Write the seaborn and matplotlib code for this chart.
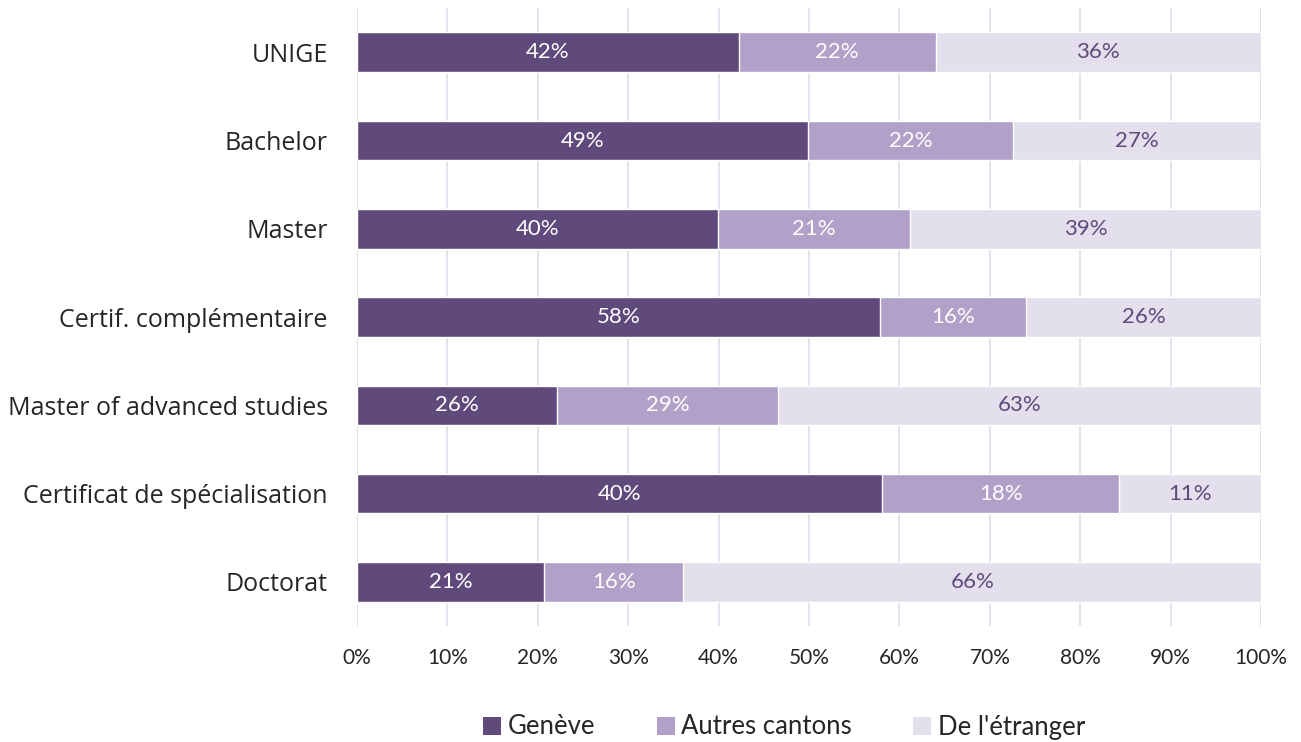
import pandas as pd
import matplotlib.pyplot as plt
import seaborn as sns
from matplotlib.patches import Patch

# Données
categories = ['UNIGE', 'Bachelor', 'Master', 'Certif. complémentaire',
              'Master of advanced studies', 'Certificat de spécialisation', 'Doctorat']
geneve = [42.2, 49.9, 39.9, 57.8, 22.1, 58.1, 20.7]   # longueur des barres
autres = [21.8, 22.7, 21.3, 16.2, 24.5, 26.2, 15.4]
etranger = [36.0, 27.4, 38.8, 26.0, 53.4, 15.7, 63.9]

# Étiquettes affichées (telles quelles dans l'original)
lab_geneve = ['42%', '49%', '40%', '58%', '26%', '40%', '21%']
lab_autres = ['22%', '22%', '21%', '16%', '29%', '18%', '16%']
lab_etranger = ['36%', '27%', '39%', '26%', '63%', '11%', '66%']

series = ['Genève', 'Autres cantons', "De l'étranger"]
couleurs = ['#604A7B', '#B1A0C7', '#E4DFEC']

df = pd.DataFrame({'cat': categories, 'g': geneve, 'a': autres, 'e': etranger})
df['cum_a'] = df['g'] + df['a']
df['cum_e'] = df['cum_a'] + df['e']

sns.set_theme(style='white')
plt.rcParams['font.family'] = ['Lato', 'DejaVu Sans']

fig = plt.figure(figsize=(13.01, 7.42), dpi=100)
ax = fig.add_axes([0.2744, 0.1563, 0.6949, 0.8327])

# Barres empilées : de l'arrière vers l'avant
for col, c in zip(['cum_e', 'cum_a', 'g'], couleurs[::-1]):
    sns.barplot(data=df, y='cat', x=col, color=c, orient='h', width=0.45,
                saturation=1, ax=ax, zorder=3)

ax.set_xlim(0, 100)
ax.set_xticks(range(0, 101, 10))
ax.set_xticklabels([f'{v}%' for v in range(0, 101, 10)], fontsize=15, color='#262626')
ax.tick_params(axis='x', pad=16, length=0)
ax.tick_params(axis='y', pad=21, length=0)
for t in ax.get_yticklabels():
    t.set_color('#262626')
    t.set_fontsize(18)
    t.set_family(['Open Sans', 'DejaVu Sans'])
ax.set_xlabel('')
ax.set_ylabel('')
ax.grid(axis='x', color='#E3DEEC', linewidth=1.3, zorder=0)
for s in ax.spines.values():
    s.set_visible(False)
ax.axvline(0, color='#E3DEEC', linewidth=1.3, zorder=1)

# Étiquettes de données
for i in range(len(categories)):
    ax.text(geneve[i] / 2, i, lab_geneve[i], ha='center', va='center',
            color='white', fontsize=16, zorder=5)
    ax.text(geneve[i] + autres[i] / 2, i, lab_autres[i], ha='center', va='center',
            color='white', fontsize=16, zorder=5)
    ax.text(geneve[i] + autres[i] + etranger[i] / 2, i, lab_etranger[i], ha='center',
            va='center', color='#604A7B', fontsize=16, zorder=5)

handles = [Patch(facecolor=c, edgecolor='none') for c in couleurs]
fig.legend(handles, series, loc='center', bbox_to_anchor=(784 / 1301, 1 - 727 / 742),
           ncol=3, frameon=False, fontsize=18.5, handlelength=0.7, handleheight=0.7,
           handletextpad=0.25, columnspacing=2.4, labelcolor='#262626',
           borderpad=0, borderaxespad=0)

plt.savefig('out.png', dpi=100)
